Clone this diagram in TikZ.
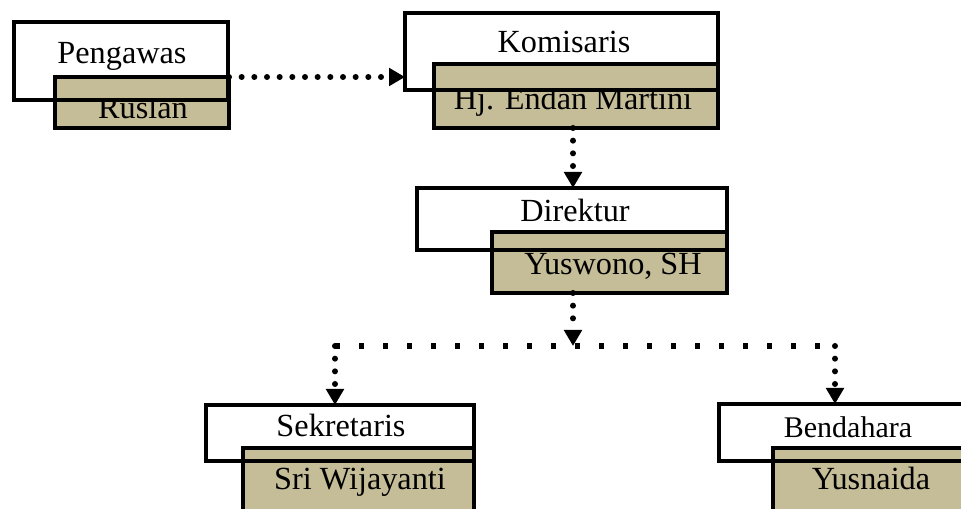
\documentclass[tikz,border=0pt]{standalone}
\usepackage{fontspec}
\setmainfont{Liberation Serif}
\usetikzlibrary{arrows.meta}
\definecolor{tanbox}{RGB}{196,189,151}

\begin{document}
\begin{tikzpicture}[x=0.75pt,y=-0.75pt,
  box/.style={draw,line width=3.5pt,inner sep=0pt,outer sep=0pt,anchor=north west},
  namebox/.style={box,fill=tanbox},
  txt/.style={inner sep=0pt,anchor=base,font=\fontsize{24.2}{29}\selectfont},
  dots/.style={line width=4.5pt,line cap=round,dash pattern=on 0pt off 9.5pt},
  arr/.style={dots,-{Triangle[length=12pt,width=13pt]}},
  squares/.style={line width=4pt,dash pattern=on 4pt off 14pt}]
\useasboundingbox (0,0) rectangle (961,509);
\clip (0,0) rectangle (961,509);
% name boxes
\node[namebox,minimum width=130.5pt,minimum height=38.25pt] (ruslan) at (55,77) {};
\node[namebox,minimum width=213pt,minimum height=48pt] (endan) at (434,64) {};
\node[namebox,minimum width=176.25pt,minimum height=45.75pt] (yuswono) at (492,232) {};
\node[namebox,minimum width=173.25pt,minimum height=61.5pt] (sri) at (243,448) {};
\node[namebox,minimum width=155.25pt,minimum height=61.5pt] (yusnaida) at (773,448) {};
% names, top cut off
\begin{scope}
\clip (55,101) rectangle (229,128);
\node[txt] (ruslanT) at (143,119) {Ruslan};
\end{scope}
\begin{scope}
\clip (434,91) rectangle (718,128);
\node[txt] (endanT) at (573,110) {Hj. Endan Martini};
\end{scope}
\node[txt] (yuswonoT) at (613,275) {Yuswono, SH};
\node[txt] (sriT) at (360,490) {Sri Wijayanti};
\node[txt] (yusnaidaT) at (871,490) {Yusnaida};
% title boxes
\node[box,minimum width=160.5pt,minimum height=58.5pt] (pengawas) at (14,22) {};
\node[box,minimum width=234.75pt,minimum height=57.75pt] (komisaris) at (405,13) {};
\node[box,minimum width=232.5pt,minimum height=46.5pt] (direktur) at (417,188) {};
\node[box,minimum width=201pt,minimum height=42pt] (sekretaris) at (206,405) {};
\node[box,minimum width=195.75pt,minimum height=42.75pt] (bendahara) at (719,404) {};
\node[txt] (pengawasT) at (122,64) {Pengawas};
\node[txt] (komisarisT) at (564,53) {Komisaris};
\node[txt] (direkturT) at (575,222) {Direktur};
\node[txt] (sekretarisT) at (341,437) {Sekretaris};
\node[txt,font=\fontsize{22.5}{27}\selectfont] (bendaharaT) at (848,438) {Bendahara};
% lines
\coordinate (split) at (573,346);
\coordinate (left) at (335,346);
\coordinate (right) at (835,346);
\draw[arr] (ruslan.north east) -- (ruslan.north east -| komisaris.west);
\draw[arr] (endanT |- endan.south) -- (endanT |- direktur.north);
\draw[arr] (split |- yuswono.south) -- (split);
\draw[squares] (left) -- (right);
\draw[arr] (left) -- (left |- sekretaris.north);
\draw[arr] (right) -- (right |- bendahara.north);
\end{tikzpicture}
\end{document}
